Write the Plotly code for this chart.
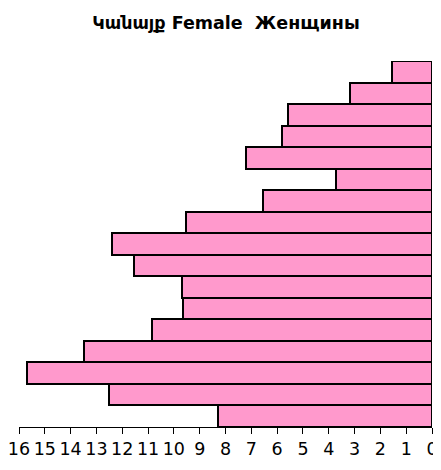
import plotly.graph_objects as go

# Bars listed top to bottom
groups = [f"g{i}" for i in range(17)]
values = [1.55, 3.16, 5.57, 5.82, 7.19, 3.70, 6.54, 9.53, 12.39, 11.54,
          9.70, 9.66, 10.84, 13.48, 15.68, 12.50, 8.31]
tick_vals = list(range(0, 17))
tick_text = [str(v) for v in tick_vals]

fig = go.Figure(go.Bar(
    x=values, y=groups, orientation="h",
    marker=dict(color="#FF99CC", line=dict(color="black", width=2)),
))

# page body has an 8px margin, so the figure is sized/offset to compensate
W, H = 433, 462
fig.update_layout(
    width=W, height=H,
    paper_bgcolor="white", plot_bgcolor="white",
    margin=dict(l=11, r=9, t=53, b=43, autoexpand=False),
    bargap=0,
    showlegend=False,
    title=dict(text="<b>Կանայք Female  Женщины</b>", x=218 / W, xanchor="center",
               y=1 - 15 / H, yanchor="middle",
               font=dict(family="DejaVu Sans, Liberation Sans, Arial", size=17.5, color="black")),
    font=dict(family="DejaVu Sans, Liberation Sans, Arial, sans-serif", color="black"),
)
fig.update_xaxes(range=[16, 0], tickvals=tick_vals, ticktext=tick_text,
                 ticks="outside", ticklen=6, tickcolor="black", tickwidth=1,
                 showline=True, linecolor="black", linewidth=1,
                 showgrid=False, zeroline=False, automargin=False,
                 ticklabeloverflow="allow",
                 tickfont=dict(size=17.5, color="black"))
fig.update_yaxes(autorange="reversed", showticklabels=False, showgrid=False,
                 zeroline=False, showline=False, ticks="", automargin=False)

fig.write_html("out.html")
